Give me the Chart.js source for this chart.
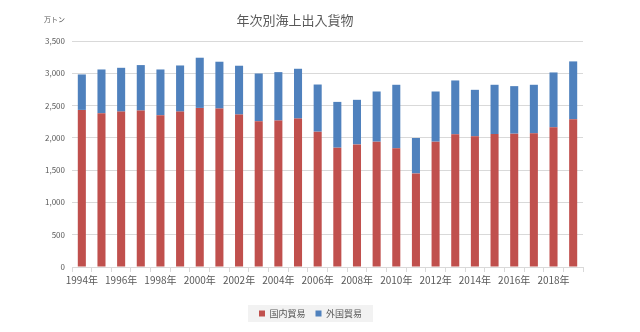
<!DOCTYPE html>
<html>
<head>
<meta charset="utf-8">
<script src="https://cdn.jsdelivr.net/npm/chart.js@4"></script>
<style>
  html, body { margin: 0; padding: 0; background: #fff; }
  #wrap { width: 640px; height: 332px; position: relative; }
</style>
</head>
<body>
<div id="wrap"><canvas id="grafica"></canvas></div>
<script>
const years = ['1994年','1995年','1996年','1997年','1998年','1999年','2000年','2001年','2002年','2003年','2004年','2005年','2006年','2007年','2008年','2009年','2010年','2011年','2012年','2013年','2014年','2015年','2016年','2017年','2018年','2019年'];
const domestic = [2433,2381,2407,2423,2350,2407,2464,2454,2361,2257,2268,2299,2096,1848,1899,1941,1838,1449,1941,2055,2024,2060,2065,2070,2164,2288];
const foreign = [549,678,678,704,709,714,777,725,756,740,750,771,730,709,690,777,984,549,777,834,720,762,736,752,849,896];
const yTicks = [0,500,1000,1500,2000,2500,3000,3500];

const gris = '#595959';
const fuente = '"Noto Sans CJK JP", "Noto Sans", sans-serif';

// titulo y unidad dibujados a mano para poder ubicarlos
const textos = {
    id: 'textos',
    afterLayout(chart) {
        // correr la leyenda un poco a la derecha
        if (chart.legend) chart.legend.left += 38;
    },
    beforeDraw(chart) {
        const c = chart.ctx;
        // fondo gris de la leyenda
        const boxes = chart.legend && chart.legend.legendHitBoxes;
        if (boxes && boxes.length) {
            const l = Math.min(...boxes.map(b => b.left)) - 11;
            const r = Math.max(...boxes.map(b => b.left + b.width)) + 11;
            const t = Math.min(...boxes.map(b => b.top)) - 4;
            const btm = Math.max(...boxes.map(b => b.top + b.height)) + 4;
            c.save();
            c.fillStyle = '#f2f2f2';
            c.fillRect(l, t, r - l, btm - t);
            c.restore();
        }
    },
    afterDraw(chart) {
        const c = chart.ctx;
        c.save();
        c.fillStyle = gris;
        c.textBaseline = 'middle';
        c.textAlign = 'center';
        c.font = '13px ' + fuente;
        c.fillText('年次別海上出入貨物', 295, 20);
        c.textAlign = 'left';
        c.font = '7px ' + fuente;
        c.fillText('万トン', 44, 19);
        c.restore();
    }
};

new Chart(document.getElementById('grafica').getContext('2d'), {
    type: 'bar',
    data: {
        labels: years,
        datasets: [
            { label: '国内貿易', data: domestic, backgroundColor: '#c0504d', barPercentage: 0.41, categoryPercentage: 1 },
            { label: '外国貿易', data: foreign, backgroundColor: '#4f81bd', barPercentage: 0.41, categoryPercentage: 1 }
        ]
    },
    options: {
        responsive: true,
        maintainAspectRatio: false,
        animation: false,
        layout: { padding: { top: 41, right: 57, left: 0, bottom: 4 } },
        plugins: {
            title: { display: false },
            tooltip: { enabled: false },
            legend: {
                position: 'bottom',
                labels: {
                    color: gris,
                    boxWidth: 6,
                    boxHeight: 6,
                    padding: 10,
                    font: { size: 9, family: fuente }
                }
            }
        },
        scales: {
            x: {
                stacked: true,
                afterFit: s => { s.height += 11; },
                grid: { display: true, drawOnChartArea: false, drawTicks: true, tickLength: 5, color: '#d9d9d9' },
                border: { color: '#d9d9d9' },
                ticks: {
                    color: gris,
                    autoSkip: false,
                    maxRotation: 0,
                    padding: 2,
                    font: { size: 10, family: fuente },
                    callback: function (v, i) { return i % 2 === 0 ? this.getLabelForValue(v) : ''; }
                }
            },
            y: {
                stacked: true,
                min: 0,
                max: 3500,
                afterFit: s => { s.width = 72; },
                afterBuildTicks: s => { s.ticks = yTicks.map(v => ({ value: v })); },
                grid: { color: '#d9d9d9', drawTicks: false },
                border: { display: false },
                ticks: {
                    color: gris,
                    padding: 7,
                    font: { size: 8, family: fuente },
                    callback: v => v.toLocaleString('en-US')
                }
            }
        }
    },
    plugins: [textos]
});
</script>
</body>
</html>
